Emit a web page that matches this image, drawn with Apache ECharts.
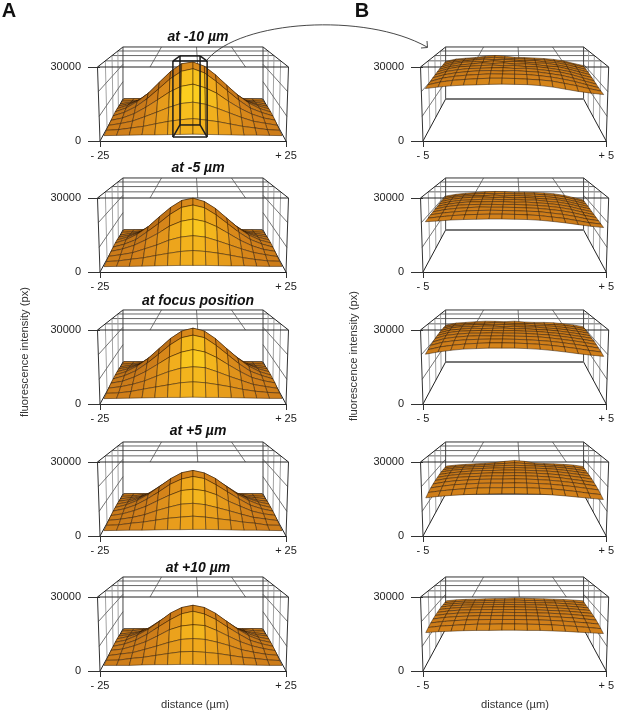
<!DOCTYPE html>
<html><head><meta charset="utf-8">
<style>html,body{margin:0;padding:0;background:#fff}#c{width:617px;height:713px}</style>
<script src="https://cdn.jsdelivr.net/npm/echarts@6/dist/echarts.min.js"></script>
</head><body><div id="c"></div>
<script>
// Intensities in hundreds of px units; rows run back to front, columns left to right.
const focusA1=[[14,15,16,15,17,18,20,21,20,18,16,15,16,14,13],[17,18,24,32,42,52,60,64,58,50,40,30,24,18,16],[19,27,39,58,78,99,116,118,110,92,72,52,36,27,18],[24,36,56,85,118,155,180,186,170,146,108,77,50,33,23],[27,44,70,108,155,202,238,246,226,190,143,99,63,41,26],[28,47,78,119,172,224,262,270,250,208,158,110,71,44,27],[26,43,69,107,153,200,236,248,228,189,144,100,63,42,26],[23,34,54,83,117,152,178,188,172,147,110,78,52,34,24],[19,27,38,57,77,98,115,121,112,94,74,54,37,28,19],[16,19,26,33,44,54,61,66,60,53,43,33,26,19,16],[13,14,15,16,16,17,18,19,18,17,16,15,15,14,13]];
const focusA2=[[14,14,16,16,17,18,19,20,19,18,17,15,15,14,13],[16,19,24,30,39,50,56,60,57,50,40,31,24,18,16],[18,26,36,53,71,90,105,108,102,87,69,51,35,26,19],[23,33,50,77,107,139,161,169,158,135,103,73,48,33,24],[26,40,62,96,139,182,213,224,209,176,135,94,59,39,26],[27,44,70,107,155,200,234,245,229,195,149,103,66,42,27],[25,39,60,97,136,179,212,223,210,177,136,95,61,40,25],[23,34,51,76,104,138,160,170,159,136,105,74,49,32,23],[19,26,35,52,69,90,104,110,104,88,70,52,36,26,18],[15,18,25,31,41,50,58,62,58,51,42,32,24,18,16],[13,14,14,15,16,17,18,18,18,17,16,16,15,14,14]];
const focusA3=[[15,14,16,17,17,19,20,20,20,19,17,16,16,14,14],[17,19,25,33,42,51,60,64,60,52,43,33,24,19,17],[19,27,36,54,72,93,109,112,108,91,74,53,37,26,20],[25,34,50,77,108,142,166,176,167,142,109,76,51,33,25],[27,41,62,98,141,185,219,233,218,186,143,100,64,41,27],[27,44,71,109,157,205,241,255,241,204,156,110,70,43,27],[26,41,64,100,142,186,220,232,220,184,141,98,62,42,26],[24,33,52,78,110,143,165,177,166,141,108,77,50,35,25],[20,26,37,52,73,93,108,114,110,92,72,54,36,27,19],[16,18,24,34,43,52,61,65,61,53,44,33,25,20,17],[13,14,15,16,17,18,18,19,18,18,17,16,15,14,14]];
const focusA4=[[14,15,15,16,17,18,18,19,19,18,17,16,15,14,14],[16,18,24,29,37,45,50,54,50,45,37,29,24,18,16],[19,25,32,46,61,76,88,92,89,76,62,45,31,25,19],[23,30,44,65,88,116,135,141,134,115,89,64,44,29,23],[25,35,53,82,116,150,177,187,176,150,117,82,54,36,25],[25,38,59,89,127,165,194,205,193,166,127,89,59,38,25],[25,36,54,82,115,151,176,188,178,149,116,83,53,36,25],[22,30,45,64,90,115,136,142,135,117,88,65,43,30,23],[19,24,32,44,62,77,90,94,88,75,61,46,32,25,18],[16,18,25,30,38,46,51,55,51,44,38,30,25,17,16],[13,14,15,15,16,17,17,18,18,17,16,15,15,14,13]];
const focusA5=[[13,14,15,15,16,17,19,19,18,18,16,16,15,15,14],[17,19,25,31,38,44,51,55,51,46,38,30,25,19,17],[18,24,32,45,62,77,90,94,90,77,61,44,33,24,18],[24,31,45,64,89,116,137,143,136,116,90,65,45,30,24],[26,37,54,83,118,152,178,190,177,151,116,81,53,35,25],[26,37,60,90,128,168,195,206,195,167,128,90,58,37,25],[24,35,53,81,116,149,177,189,176,150,115,82,52,36,24],[23,29,44,63,89,117,134,140,136,114,88,63,44,31,22],[18,25,31,45,60,76,89,93,89,77,62,44,33,24,19],[16,17,24,29,37,45,52,54,50,45,37,29,24,18,15],[14,14,14,16,17,17,18,18,17,17,17,16,15,14,14]];
const focusB1=[[226,238,243,247,254,258,254,248,246,244,241,236,228,214,202],[228,240,246,250,254,257,252,250,248,245,243,237,229,216,203],[226,240,247,252,256,254,255,251,247,249,241,238,228,215,201],[225,239,249,253,252,257,253,254,250,246,244,236,226,213,199],[224,238,246,251,256,253,256,250,251,247,240,237,225,211,197],[222,237,247,250,253,255,252,253,248,247,241,233,223,208,194],[219,235,243,249,250,252,253,249,250,245,239,232,220,205,191],[217,231,240,245,249,250,248,250,246,243,236,228,216,202,188],[213,227,235,240,243,246,245,244,243,238,232,223,212,198,185],[210,222,229,233,236,238,238,237,234,231,226,216,206,194,183],[207,213,218,221,222,224,225,224,223,219,213,204,195,188,182]];
const focusB2=[[205,214,220,224,228,230,229,226,226,224,222,217,209,196,183],[207,216,222,226,229,228,228,227,225,225,221,218,210,197,184],[208,218,224,227,227,230,226,228,226,223,222,216,208,196,183],[207,218,225,229,230,228,229,226,227,224,220,217,207,194,182],[206,217,224,226,229,229,227,228,225,225,219,215,206,193,181],[205,216,223,227,227,228,228,225,226,222,219,213,204,191,179],[204,215,222,225,226,226,225,226,223,221,217,211,202,189,178],[203,213,219,222,225,224,224,223,221,219,214,208,199,187,177],[202,210,215,219,221,222,221,220,218,216,210,204,195,184,176],[200,206,211,214,216,217,217,216,214,211,205,199,190,181,175],[198,201,205,207,208,209,209,208,207,204,199,193,186,179,174]];
const focusB3=[[222,232,236,240,243,242,240,243,238,236,236,234,228,222,212],[223,234,238,241,241,244,242,240,240,238,235,233,229,221,212],[224,235,240,243,244,242,244,241,241,237,237,233,227,220,210],[223,236,242,242,245,245,242,244,240,240,235,232,226,218,209],[221,235,240,244,243,244,245,242,242,238,236,231,224,216,207],[219,233,240,242,244,243,243,243,240,239,234,229,222,214,205],[216,231,237,241,241,243,241,241,240,236,233,227,220,212,203],[212,227,234,238,240,239,240,238,237,235,230,224,217,209,200],[208,222,229,233,235,236,236,235,233,230,226,220,213,205,196],[202,214,221,226,229,231,231,230,228,225,220,214,207,199,192],[196,205,212,217,219,221,221,221,219,216,211,205,198,192,187]];
const focusB4=[[170,176,180,183,186,190,197,202,197,188,185,183,180,176,168],[172,179,183,186,189,192,196,199,196,191,188,185,181,176,168],[174,181,186,189,191,193,196,197,195,193,190,187,182,175,167],[174,182,187,190,192,194,195,197,194,193,191,187,181,174,166],[173,181,186,190,193,193,195,195,194,192,190,186,180,173,165],[171,180,186,189,191,193,193,194,193,191,188,184,178,171,163],[169,178,184,187,189,191,191,192,191,189,186,182,175,168,160],[166,175,181,184,187,188,188,189,188,186,183,178,172,165,157],[162,170,176,179,182,183,183,184,183,181,178,173,167,160,153],[156,163,168,172,175,176,176,177,176,174,171,166,160,153,147],[148,154,158,161,163,164,165,165,164,163,160,156,151,146,141]];
const focusB5=[[172,177,180,181,183,184,185,188,186,184,183,181,179,176,172],[173,178,181,183,184,185,186,187,185,185,183,182,180,176,171],[174,179,182,184,185,186,186,186,186,184,184,182,179,175,170],[174,180,183,184,186,186,187,186,185,185,183,181,178,174,169],[173,179,183,185,185,186,186,186,185,184,182,180,177,173,168],[171,178,182,183,185,185,185,185,184,183,181,179,176,171,166],[169,176,180,182,183,183,184,183,183,181,180,177,174,169,164],[166,173,177,179,181,181,181,181,180,179,177,174,171,166,161],[162,168,172,175,176,177,177,177,176,175,173,170,166,162,157],[156,162,165,168,170,170,171,171,170,169,167,164,160,156,151],[149,153,155,157,158,158,159,159,158,158,156,154,151,148,145]];
const titles=['at -10 µm','at -5 µm','at focus position','at +5 µm','at +10 µm'];
const tablesA=[focusA1,focusA2,focusA3,focusA4,focusA5];
const tablesB=[focusB1,focusB2,focusB3,focusB4,focusB5];
const yTicks=[0,30000];
const xExtentA=25, xExtentB=5;
const boxFront=[[-5.4,1600],[3.8,1600],[3.8,32400],[-5.4,32400]];
const boxBack=[[-3.5,6500],[1.9,6500],[1.9,34500],[-3.5,34500]];

const FONT='"Liberation Sans",Arial,sans-serif';
const zeroYs=[141,272,404,536,671], H=74;
const colLeft=[100,423], colW=[186,187];
const ZMAX=30000;
const K=0.329, BW=0.753, BF=0.5676, BT=0.703, TW=0.027;
function project(api,xv,v,zv){
  const f=api.coord([xv,zv]), o=api.coord([0,0]), tp=api.coord([0,ZMAX]);
  const H0=o[1]-tp[1], h=zv/ZMAX, cx=o[0];
  const t=v*(1+K)/(1+K*v);
  const fx=cx+(f[0]-cx)*(1+TW*h), fy=f[1];
  const bx=cx+(f[0]-cx)*BW, by=o[1]-BF*H0-BT*H0*h;
  return [fx+(bx-fx)*t, fy+(by-fy)*t];
}
const ramp=['#84480e','#b36a16','#d2801a','#eea61c','#ffd820'];
function frameSegments(){
  const s=[];
  const add=(a,b,c,w)=>s.push([0,0,a[0],a[1],a[2],b[0],b[1],b[2],c,w]);
  [-0.45,0.05,0.55].forEach(u=>add([u,0,1],[u,1,1],'#555',0.8));
  [0.25,0.5,0.75].forEach(v=>add([-1,v,1],[1,v,1],'#555',0.9));
  [-1,1].forEach(u=>{
    [0.25,0.5,0.75].forEach(v=>add([u,v,0],[u,v,1],'#999',0.9));
    [1/3,2/3].forEach(h=>add([u,0,h],[u,1,h],'#666',0.9));
    add([u,0,0],[u,1,0],'#222',1);
    add([u,0,1],[u,1,1],'#222',1);
    add([u,0,0],[u,0,1],'#333',1);
    add([u,1,0],[u,1,1],'#444',1);
  });
  add([-1,1,0],[1,1,0],'#777',1.8);
  add([-1,1,1],[1,1,1],'#333',1);
  add([-1,0,1],[1,0,1],'#222',1);
  return s;
}
function frameSeries(idx,X){
  return {type:'custom',coordinateSystem:'cartesian2d',xAxisIndex:idx,yAxisIndex:idx,silent:true,z:2,clip:false,
    encode:{x:0,y:1},data:frameSegments(),
    renderItem(p,api){
      const a=project(api,api.value(2)*X,api.value(3),api.value(4)*ZMAX);
      const b=project(api,api.value(5)*X,api.value(6),api.value(7)*ZMAX);
      const seg=frameSegments()[p.dataIndex];
      return {type:'line',shape:{x1:a[0],y1:a[1],x2:b[0],y2:b[1]},style:{stroke:seg[8],lineWidth:seg[9],fill:null}};
    }};
}
function surfaceSeries(idx,X,tb){
  const nr=tb.length, nc=tb[0].length, items=[];
  const U=c=>(-0.97+1.94*c/(nc-1))*X, V=r=>0.04+0.89*(nr-1-r)/(nr-1);
  for(let r=0;r<nr-1;r++){
    const cs=[];for(let c=0;c<nc-1;c++)cs.push(c);
    cs.sort((a,b)=>Math.abs(b-(nc-2)/2)-Math.abs(a-(nc-2)/2));
    cs.forEach(c=>items.push([U(c),tb[r][c]*100,c,r]));
  }
  return {type:'custom',coordinateSystem:'cartesian2d',xAxisIndex:idx,yAxisIndex:idx,silent:true,z:3,clip:false,
    encode:{x:0,y:1},data:items,
    renderItem(p,api){
      const c=api.value(2), r=api.value(3);
      const a=tb[r][c],b=tb[r][c+1],d=tb[r+1][c+1],e=tb[r+1][c];
      const pts=[[c,r,a],[c+1,r,b],[c+1,r+1,d],[c,r+1,e]].map(q=>project(api,U(q[0]),V(q[1]),q[2]*100));
      const sf=((a+b)-(d+e))/2, sc=((b+d)-(a+e))/2;
      let s=0.44+0.0085*sf-0.0042*Math.abs(sc)-0.0014*sc;
      s=Math.max(0,Math.min(1,s));
      return {type:'polygon',shape:{points:pts},style:{fill:echarts.color.lerp(s,ramp),stroke:'rgba(40,22,5,0.68)',lineWidth:0.7}};
    }};
}
function boxSeries(idx){
  const segs=[];
  [boxFront,boxBack].forEach(b=>{for(let i=0;i<4;i++)segs.push([b[i],b[(i+1)%4]]);});
  for(let i=0;i<4;i++)segs.push([boxFront[i],boxBack[i]]);
  return {type:'custom',coordinateSystem:'cartesian2d',xAxisIndex:idx,yAxisIndex:idx,silent:true,z:5,clip:false,
    encode:{x:0,y:1},data:segs.map(s=>[s[0][0],s[0][1],s[1][0],s[1][1]]),
    renderItem(p,api){
      const a=api.coord([api.value(0),api.value(1)]),b=api.coord([api.value(2),api.value(3)]);
      return {type:'line',shape:{x1:a[0],y1:a[1],x2:b[0],y2:b[1]},style:{stroke:'#1c1c1c',lineWidth:1.5,fill:null}};
    }};
}
const grids=[],xAxes=[],yAxes=[],series=[];
[[tablesA,xExtentA,0],[tablesB,xExtentB,1]].forEach(([tabs,X,col])=>{
  tabs.forEach((tb,i)=>{
    const idx=grids.length;
    grids.push({left:colLeft[col],width:colW[col],top:zeroYs[i]-H,height:H,containLabel:false});
    xAxes.push({gridIndex:idx,type:'value',min:-X,max:X,interval:2*X,splitLine:{show:false},
      axisLine:{show:true,onZero:false,lineStyle:{color:'#222',width:1}},
      axisTick:{show:true,length:6,lineStyle:{color:'#333'}},
      axisLabel:{margin:9,fontSize:11,color:'#222',fontFamily:FONT,
        formatter:v=>(v<0?'- ':'+ ')+Math.abs(v)}});
    yAxes.push({gridIndex:idx,type:'value',min:yTicks[0],max:yTicks[1],interval:30000,splitLine:{show:false},
      axisLine:{show:false,onZero:false},axisTick:{show:true,length:12,lineStyle:{color:'#333'}},
      axisLabel:{margin:19,fontSize:11,color:'#222',fontFamily:FONT,formatter:v=>String(v)}});
    series.push(frameSeries(idx,X),surfaceSeries(idx,X,tb));
    if(col===0&&i===0)series.push(boxSeries(idx));
  });
});
const graphic=[];
const txt=(t,x,y,o)=>graphic.push(Object.assign({type:'text',x,y,z:10,silent:true,
  style:Object.assign({text:t,fontFamily:FONT,fill:'#222',textAlign:'center',textVerticalAlign:'middle',verticalAlign:'middle'},o.style)},o.el||{}));
txt('A',9,11,{style:{fontSize:20,fontWeight:'bold',fill:'#111'}});
txt('B',362,11,{style:{fontSize:20,fontWeight:'bold',fill:'#111'}});
const titleY=[37,168,301,431,568];
titles.forEach((t,i)=>txt(t,198,titleY[i],{style:{fontSize:14,fontWeight:'bold',fontStyle:'italic',fill:'#111'}}));
txt('fluorescence intensity (px)',25,352,{style:{fontSize:11.2,fill:'#333'},el:{rotation:Math.PI/2}});
txt('fluorescence intensity (px)',354,356,{style:{fontSize:11.2,fill:'#333'},el:{rotation:Math.PI/2}});
txt('distance (µm)',195,705,{style:{fontSize:11.2,fill:'#333'}});
txt('distance (µm)',515,705,{style:{fontSize:11.2,fill:'#333'}});
graphic.push({type:'bezierCurve',z:6,silent:true,shape:{x1:207,y1:60,cpx1:240,cpy1:20,cpx2:365,cpy2:12,x2:427,y2:47},style:{stroke:'#333',lineWidth:0.9,fill:null}});
graphic.push({type:'polyline',z:6,silent:true,shape:{points:[[421,48],[427.5,47.5],[427,41]]},style:{stroke:'#333',lineWidth:0.9,fill:null}});
const chart=echarts.init(document.getElementById('c'),null,{renderer:'canvas',width:617,height:713});
chart.setOption({animation:false,backgroundColor:'#fff',grid:grids,xAxis:xAxes,yAxis:yAxes,series,graphic});
</script></body></html>
